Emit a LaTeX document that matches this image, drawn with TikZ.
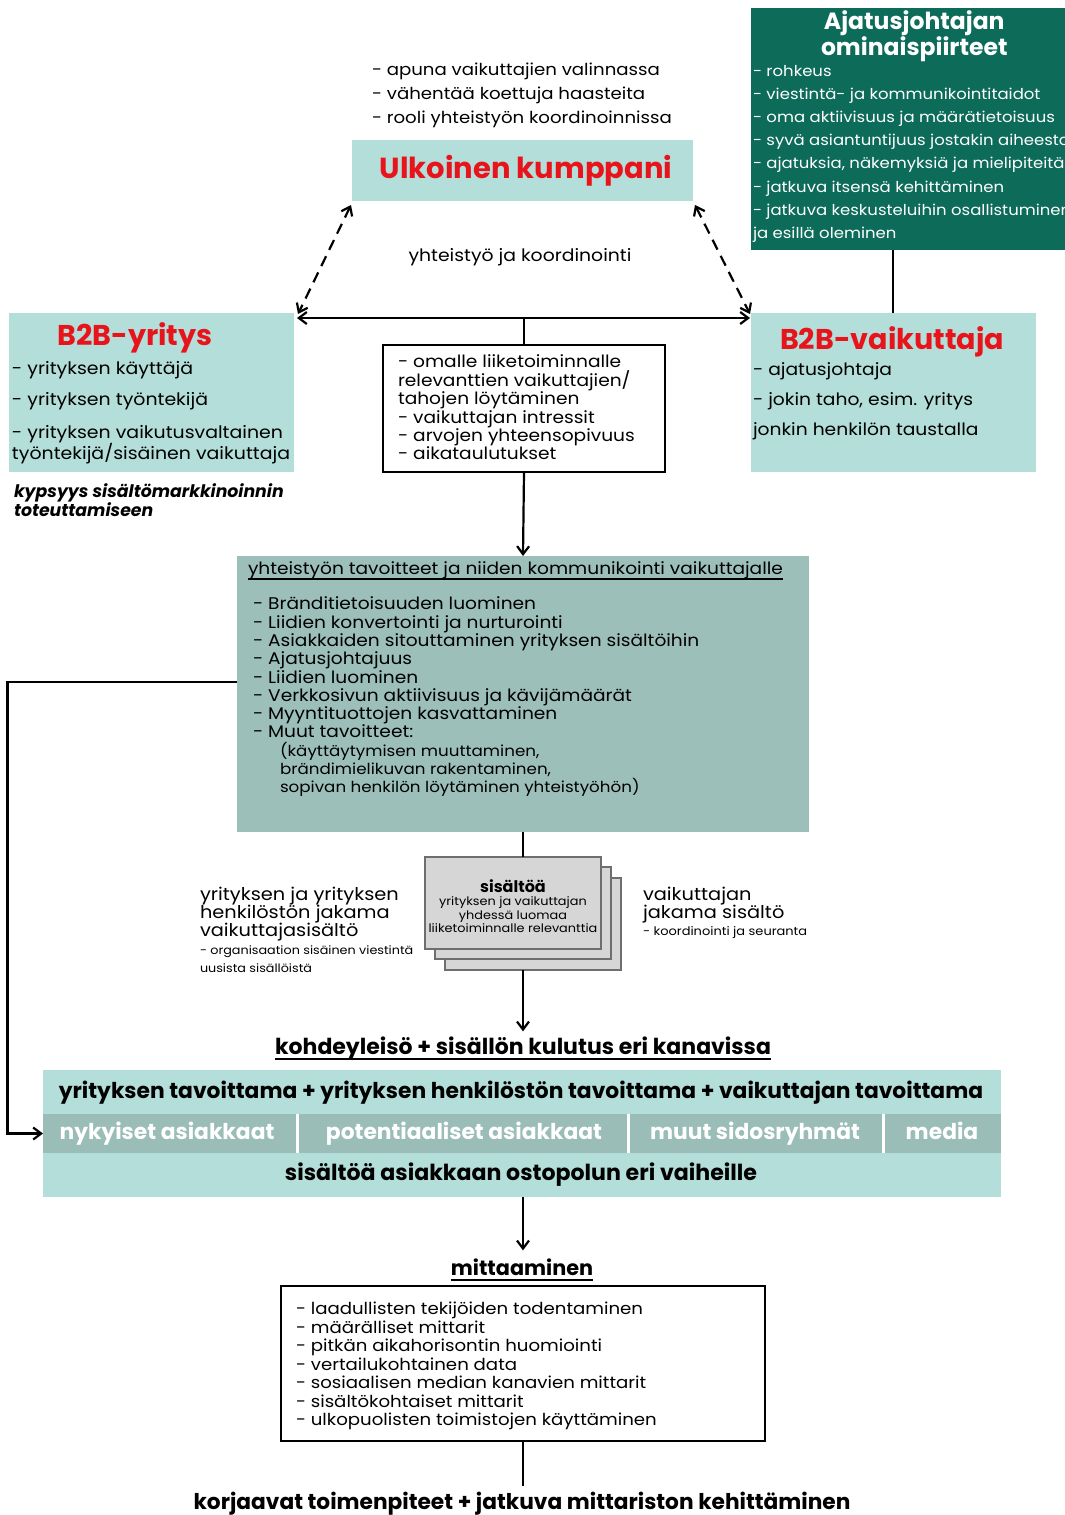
\documentclass[tikz,border=0pt]{standalone}
\usepackage{fontspec}
\setmainfont[UprightFeatures={FakeStretch=1.1}]{Poppins}
\usetikzlibrary{arrows.meta}

\definecolor{lightteal}{HTML}{B3DEDA}
\definecolor{goalteal}{HTML}{9CBFB9}
\definecolor{bandteal}{HTML}{9ABDB7}
\definecolor{darkgreen}{HTML}{0C6B59}
\definecolor{titlered}{HTML}{E8141C}
\definecolor{paper}{HTML}{D6D6D6}
\definecolor{paperline}{HTML}{6E6E6E}

\newcommand{\fsz}[2]{\fontsize{#1}{#2}\selectfont}
\newcommand{\subgoal}[1]{\hspace*{27pt}{\fsz{15.2}{18.3}#1}}

\begin{document}
\begin{tikzpicture}[x=1pt,y=-1pt,
  every node/.style={inner sep=0pt,outer sep=0pt},
  tealbox/.style={fill=lightteal,draw=none,anchor=north west},
  goalbox/.style={fill=goalteal,draw=none,anchor=north west},
  darkbox/.style={fill=darkgreen,draw=none,anchor=north west},
  whitebox/.style={fill=white,draw=black,line width=1.3pt,anchor=north west},
  paperbox/.style={fill=paper,draw=paperline,line width=1.4pt,anchor=north west,minimum width=176,minimum height=92},
  bandmid/.style={fill=bandteal,draw=none,anchor=north west},
  redtitle/.style={anchor=base,text=titlered,font=\bfseries\fsz{28.6}{30}},
  boldline/.style={anchor=base,font=\bfseries\fsz{21.8}{24}},
  listtxt/.style={anchor=north west,align=left},
  conn/.style={line width=2.2pt,-{Straight Barb[length=8pt,width=12pt]}},
  plain/.style={line width=1.3pt},
  dconn/.style={line width=2.2pt,dash pattern=on 11pt off 7pt,{Straight Barb[length=8pt,width=12pt]}-{Straight Barb[length=8pt,width=12pt]}},
  sep/.style={draw=white,line width=3pt}
]
\useasboundingbox (0,0) rectangle (1065,1515);
\fill[white] (0,0) rectangle (1065,1515);

% ---------- thought leader traits ----------
\node[darkbox,minimum width=320,minimum height=242] (trait) at (751,8) {};
\node[anchor=north west,text=white,align=center,font=\bfseries\fsz{23.5}{23}] (traittitle) at (821,11) {Ajatusjohtajan\\ominaispiirteet};
\node[listtxt,text=white,font=\fsz{15}{23.2}] (traitlist) at (753,65) {%
- rohkeus\\
- viestintä- ja kommunikointitaidot\\
- oma aktiivisuus ja määrätietoisuus\\
- syvä asiantuntijuus jostakin aiheesta\\
- ajatuksia, näkemyksiä ja mielipiteitä\\
- jatkuva itsensä kehittäminen\\
- jatkuva keskusteluihin osallistuminen\\
ja esillä oleminen};
\coordinate (tlink) at (893,250);

% ---------- external partner ----------
\node[listtxt,font=\fsz{16.5}{24}] (partnerlist) at (372,63) {%
- apuna vaikuttajien valinnassa\\
- vähentää koettuja haasteita\\
- rooli yhteistyön koordinoinnissa};
\node[tealbox,minimum width=341,minimum height=61] (ulk) at (352,140) {};
\node[redtitle,font=\bfseries\fsz{29}{30}] (ulktitle) at (526,178) {Ulkoinen kumppani};

\node[anchor=base,font=\fsz{17.1}{20}] (coop) at (520,261) {yhteistyö ja koordinointi};

% ---------- B2B company ----------
\node[tealbox,minimum width=285,minimum height=159] (b2b) at (9,313) {};
\node[redtitle] (b2btitle) at (135,345) {B2B-yritys};
\node[anchor=base west,font=\fsz{17.2}{20}] (b2b1) at (12,374) {- yrityksen käyttäjä};
\node[anchor=base west,font=\fsz{17.2}{20}] (b2b2) at (12,405) {- yrityksen työntekijä};
\node[listtxt,font=\fsz{17.2}{21}] (b2b3) at (12,425) {- yrityksen vaikutusvaltainen\\työntekijä/sisäinen vaikuttaja};
\node[listtxt,font=\bfseries\itshape\fsz{17.3}{19}] (maturity) at (14,484) {kypsyys sisältömarkkinoinnin\\toteuttamiseen};

% ---------- selection criteria ----------
\node[whitebox,minimum width=282,minimum height=127] (crit) at (383,345) {};
\node[listtxt,font=\fsz{16.9}{18.4}] (critlist) at (398,355) {%
- omalle liiketoiminnalle\\
relevanttien vaikuttajien/\\
tahojen löytäminen\\
- vaikuttajan intressit\\
- arvojen yhteensopivuus\\
- aikataulutukset};

% ---------- B2B influencer ----------
\node[tealbox,minimum width=285,minimum height=159] (vaik) at (751,313) {};
\node[redtitle] (vaiktitle) at (892,349) {B2B-vaikuttaja};
\node[listtxt,font=\fsz{17}{30}] (vaiklist) at (753,363) {%
- ajatusjohtaja\\
- jokin taho, esim. yritys\\
jonkin henkilön taustalla};

% ---------- goals ----------
\node[goalbox,minimum width=572,minimum height=276] (goals) at (237,556) {};
\node[anchor=base west,font=\fsz{16.9}{20}] (goalhead) at (248,574) {yhteistyön tavoitteet ja niiden kommunikointi vaikuttajalle};
\draw[line width=1.1pt] ([shift={(0,5)}]goalhead.base west) -- ([shift={(0,5)}]goalhead.base east);
\node[listtxt,font=\fsz{16.9}{18.3}] (goallist) at (253,597) {%
- Bränditietoisuuden luominen\\
- Liidien konvertointi ja nurturointi\\
- Asiakkaiden sitouttaminen yrityksen sisältöihin\\
- Ajatusjohtajuus\\
- Liidien luominen\\
- Verkkosivun aktiivisuus ja kävijämäärät\\
- Myyntituottojen kasvattaminen\\
- Muut tavoitteet:\\
\subgoal{(käyttäytymisen muuttaminen,}\\
\subgoal{brändimielikuvan rakentaminen,}\\
\subgoal{sopivan henkilön löytäminen yhteistyöhön)}};

% ---------- shared content ----------
\node[paperbox] (paperB) at (445,878) {};
\node[paperbox] (paperM) at (435,867) {};
\node[paperbox] (paperF) at (425,857) {};
\node[align=center,font=\fsz{11.7}{13.4}] (papertxt) at (513,906) {{\bfseries\fsz{16}{13.4}sisältöä}\\yrityksen ja vaikuttajan\\yhdessä luomaa\\liiketoiminnalle relevanttia};

\node[listtxt,font=\fsz{17.6}{18}] (leftshare) at (200,887) {%
yrityksen ja yrityksen\\
henkilöstön jakama\\
vaikuttajasisältö};
\node[listtxt,font=\fsz{11.6}{18}] (leftnote) at (200,946) {%
- organisaation sisäinen viestintä\\
uusista sisällöistä};

\node[listtxt,font=\fsz{17.6}{18}] (rightshare) at (643,887) {%
vaikuttajan\\
jakama sisältö};
\node[anchor=base west,font=\fsz{11.8}{14}] (rightnote) at (643,935) {- koordinointi ja seuranta};

% ---------- audience bands ----------
\node[boldline,font=\bfseries\fsz{22}{24}] (kohde) at (523,1054) {kohdeyleisö + sisällön kulutus eri kanavissa};
\draw[line width=1.3pt] ([shift={(0,5)}]kohde.base west) -- ([shift={(0,5)}]kohde.base east);

\node[tealbox,minimum width=958,minimum height=44] (bandtop) at (43,1070) {};
\node[bandmid,minimum width=958,minimum height=39] (bandmid) at (43,1114) {};
\node[tealbox,minimum width=958,minimum height=44] (bandbot) at (43,1153) {};
\draw[sep] (297,1114) -- (297,1153);
\draw[sep] (628,1114) -- (628,1153);
\draw[sep] (883,1114) -- (883,1153);

\node[boldline] (reach) at (521,1098) {yrityksen tavoittama + yrityksen henkilöstön tavoittama + vaikuttajan tavoittama};
\node[boldline,text=white] (aud1) at (167,1139) {nykyiset asiakkaat};
\node[boldline,text=white] (aud2) at (464,1139) {potentiaaliset asiakkaat};
\node[boldline,text=white] (aud3) at (755,1139) {muut sidosryhmät};
\node[boldline,text=white] (aud4) at (942,1139) {media};
\node[boldline,font=\bfseries\fsz{22.1}{24}] (path) at (521,1180) {sisältöä asiakkaan ostopolun eri vaiheille};

% ---------- measurement ----------
\node[boldline,font=\bfseries\fsz{20.8}{22}] (mitt) at (522,1275) {mittaaminen};
\draw[line width=1.3pt] ([shift={(0,5)}]mitt.base west) -- ([shift={(0,5)}]mitt.base east);
\node[whitebox,minimum width=484,minimum height=155] (meas) at (281,1286) {};
\node[listtxt,font=\fsz{16.5}{18.5}] (measlist) at (296,1302) {%
- laadullisten tekijöiden todentaminen\\
- määrälliset mittarit\\
- pitkän aikahorisontin huomiointi\\
- vertailukohtainen data\\
- sosiaalisen median kanavien mittarit\\
- sisältökohtaiset mittarit\\
- ulkopuolisten toimistojen käyttäminen};
\node[boldline,font=\bfseries\fsz{21.7}{24}] (final) at (522,1509) {korjaavat toimenpiteet + jatkuva mittariston kehittäminen};

% ---------- connectors ----------
\draw[line width=2.2pt] (tlink) -- (tlink |- vaik.north);
\draw[dconn] ([shift={(-1,4)}]ulk.south west) -- ([shift={(4,1)}]b2b.north east);
\draw[dconn] ([shift={(2,4)}]ulk.south east) -- ([shift={(-1,1)}]vaik.north west);
\draw[line width=2.2pt,{Straight Barb[length=8pt,width=12pt]}-{Straight Barb[length=8pt,width=12pt]}]
  ([shift={(3,5)}]b2b.north east) -- ([shift={(-1,5)}]vaik.north west);
\draw[plain] ([shift={(0,5)}]b2b.north east -| crit.north) -- (crit.north);
\draw[conn] (crit.south) -- (goals.north);
\draw[conn] ([shift={(0,-12)}]goals.west) -- ++(-229.5,0) |- (bandmid.west);
\draw[line width=2.2pt] (goals.south) -- (goals.south |- paperF.north);
\draw[conn] (goals.south |- paperB.south) -- ([shift={(0,-5)}]goals.south |- kohde.north);
\draw[conn] (bandbot.south -| goals.south) -- ([shift={(0,-8)}]goals.south |- mitt.north);
\draw[plain] (meas.south -| goals.south) -- ([shift={(0,-6)}]goals.south |- final.north);
\end{tikzpicture}
\end{document}
